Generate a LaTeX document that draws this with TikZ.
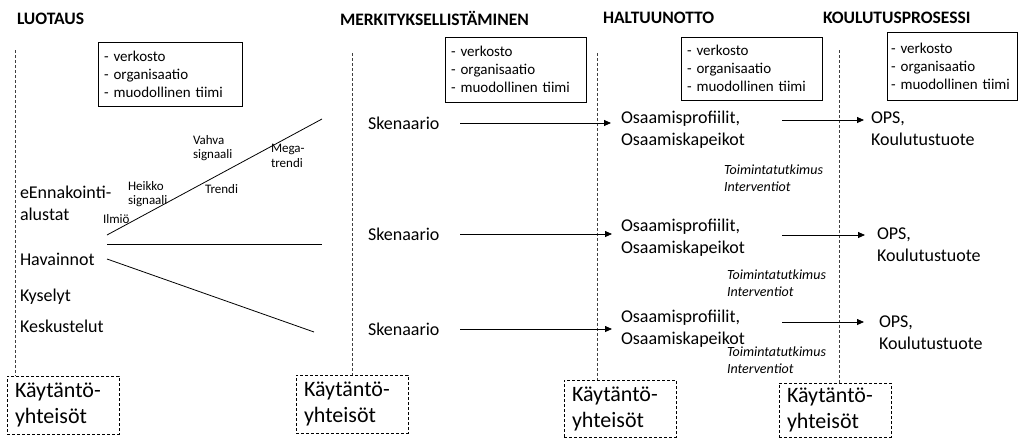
\documentclass[tikz,border=0pt]{standalone}
\usepackage{fontspec}
\setmainfont{Carlito}
\usetikzlibrary{arrows.meta}
\begin{document}
\begin{tikzpicture}[x=1pt,y=-1pt,
 every node/.style={inner sep=0pt, outer sep=0pt},
 head/.style={anchor=west, font=\bfseries\fontsize{17.5}{20}\selectfont},
 body/.style={anchor=west, align=left, font=\fontsize{18}{22}\selectfont},
 small/.style={anchor=west, align=left, font=\fontsize{13}{14.5}\selectfont},
 ital/.style={anchor=west, align=left, font=\itshape\fontsize{14}{16.5}\selectfont},
 listbox/.style={draw, line width=0.8pt, anchor=north west, align=left, inner xsep=6pt, font=\fontsize{15}{18}\selectfont},
 kbox/.style={draw, line width=0.8pt, dash pattern=on 3pt off 2pt, anchor=north west, align=left, inner xsep=8pt, minimum width=112pt, text width=96pt, font=\fontsize{22}{26}\selectfont},
 vline/.style={line width=0.8pt, dash pattern=on 3pt off 2pt, black!75},
 arr/.style={line width=0.8pt, -{Triangle[length=7pt,width=6pt]}},
 plain/.style={line width=0.8pt},
]
\useasboundingbox (0,0) rectangle (1022,439);

% headers
\node[head] (h1) at (17,19) {LUOTAUS};
\node[head] (h2) at (340,18) {MERKITYKSELLISTÄMINEN};
\node[head] (h3) at (603,18) {HALTUUNOTTO};
\node[head] (h4) at (823,18) {KOULUTUSPROSESSI};

% list boxes
\node[listbox, minimum width=144pt, minimum height=64pt, text width=132pt] (b1) at (98,42) {- verkosto\\- organisaatio\\- muodollinen tiimi};
\node[listbox, minimum width=141pt, minimum height=65pt, text width=129pt] (b2) at (445,37) {- verkosto\\- organisaatio\\- muodollinen tiimi};
\node[listbox, minimum width=141pt, minimum height=63pt, text width=129pt] (b3) at (681,37) {- verkosto\\- organisaatio\\- muodollinen tiimi};
\node[listbox, minimum width=130pt, minimum height=68pt, text width=122pt, inner xsep=4pt] (b4) at (887,32) {- verkosto\\- organisaatio\\- muodollinen tiimi};

% bottom boxes
\node[kbox, minimum height=58pt] (k1) at (7,376) {Käytäntö-\\yhteisöt};
\node[kbox, minimum height=58pt] (k2) at (296,375) {Käytäntö-\\yhteisöt};
\node[kbox, minimum height=57pt] (k3) at (564,380) {Käytäntö-\\yhteisöt};
\node[kbox, minimum height=54pt] (k4) at (779,383) {Käytäntö-\\yhteisöt};

% dashed verticals
\coordinate (t1) at (15,50);
\coordinate (t2) at (352,53);
\coordinate (t3) at (597,53);
\coordinate (t4) at (839,50);
\draw[vline] (t1) -- (t1 |- k1.north);
\draw[vline] (t2) -- (t2 |- k2.north);
\draw[vline] (t3) -- (t3 |- k3.north);
\draw[vline] (t4) -- (t4 |- k4.north);

% left column texts
\node[body] (e1) at (20,203) {eEnnakointi-\\alustat};
\node[body] (hv) at (20,259) {Havainnot};
\node[body] (ky) at (20,297) {Kyselyt};
\node[body] (ke) at (20,326) {Keskustelut};

% fan lines
\coordinate (f1a) at (107,235);
\coordinate (f1b) at (322,119);
\coordinate (f2a) at (107,244);
\coordinate (f2b) at (322,244);
\coordinate (f3a) at (107,259);
\coordinate (f3b) at (314,332);
\draw[plain] (f1a) -- (f1b);
\draw[plain] (f2a) -- (f2b);
\draw[plain] (f3a) -- (f3b);

% small labels
\node[small] (il) at (103,219) {Ilmiö};
\node[small] (hs) at (128,194) {Heikko\\signaali};
\node[small] (vs) at (193,148) {Vahva\\signaali};
\node[small] (tr) at (205,189) {Trendi};
\node[small] (mt) at (271,156) {Mega-\\trendi};

% Skenaario
\node[body] (s1) at (368,123) {Skenaario};
\node[body] (s2) at (368,234) {Skenaario};
\node[body] (s3) at (368,329) {Skenaario};

% Osaamis
\node[body] (o1) at (621,130) {Osaamisprofiilit,\\Osaamiskapeikot};
\node[body] (o2) at (621,238) {Osaamisprofiilit,\\Osaamiskapeikot};
\node[body] (o3) at (621,329) {Osaamisprofiilit,\\Osaamiskapeikot};

% OPS
\node[body] (p1) at (871,129) {OPS,\\Koulutustuote};
\node[body] (p2) at (877,245) {OPS,\\Koulutustuote};
\node[body] (p3) at (879,333) {OPS,\\Koulutustuote};

% italic
\node[ital] (i1) at (724,178) {Toimintatutkimus\\Interventiot};
\node[ital] (i2) at (727,283) {Toimintatutkimus\\Interventiot};
\node[ital] (i3) at (727,360) {Toimintatutkimus\\Interventiot};

% arrows
\draw[arr] ([xshift=21pt]s1.east) -- ([xshift=-10pt]o1.west |- s1.east);
\draw[arr] ([xshift=21pt]s2.east) -- ([xshift=-9pt]o2.west |- s2.east);
\draw[arr] ([xshift=21pt]s3.east) -- ([xshift=-9pt]o3.west |- s3.east);
\draw[arr] (782,120) coordinate (a1) -- ([xshift=-7pt]p1.west |- a1);
\draw[arr] (782,235) coordinate (a2) -- ([xshift=-12pt]p2.west |- a2);
\draw[arr] (782,322) coordinate (a3) -- ([xshift=-15pt]p3.west |- a3);
\end{tikzpicture}
\end{document}
